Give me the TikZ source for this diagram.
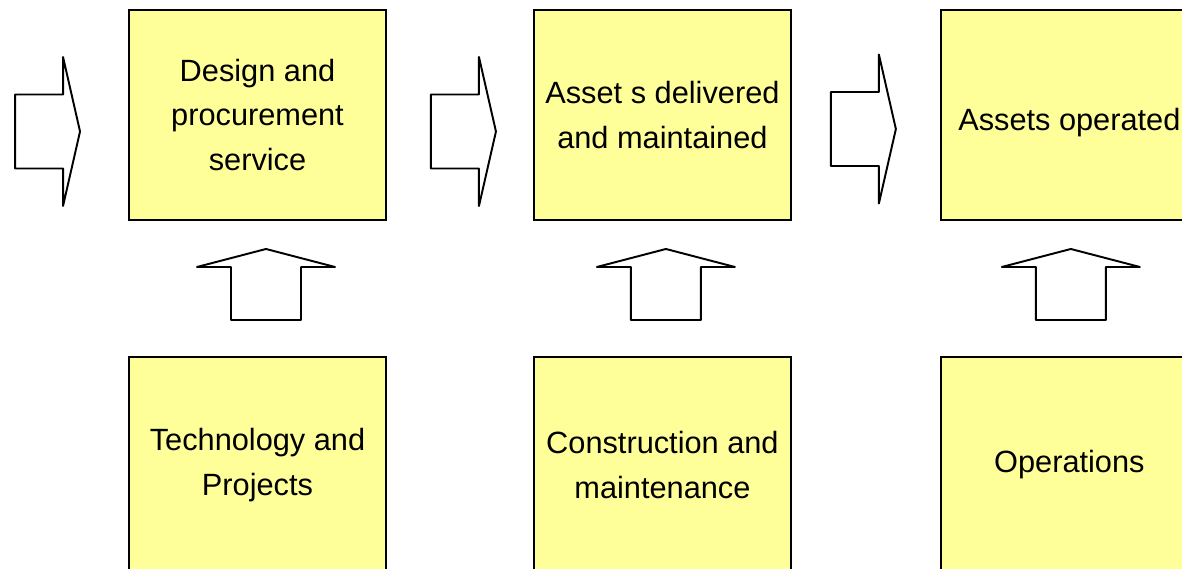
\documentclass[tikz,border=0pt]{standalone}
\usepackage{fontspec}
\setmainfont{Liberation Sans}
\usepackage{xcolor}
\usetikzlibrary{positioning}
\definecolor{notefill}{HTML}{FFFF99}

\begin{document}
\begin{tikzpicture}[
      x=0.02cm, y=0.02cm,
      box/.style={draw, line width=1.1pt, outer sep=0pt, align=center, minimum width=5.14cm, minimum height=4.2cm, fill=notefill, font=\fontsize{17.5pt}{25.6pt}\selectfont},
      unit/.style={box, minimum height=4.32cm},
      blockarrow/.style={draw, line width=1.1pt, line join=round, fill=white}
    ]
    \useasboundingbox (0,0) rectangle (1182,-568);
    \node[box] at (257.5,-115) (design) {Design and \\ procurement \\ service};
    \node[box, right=2.96cm of design] (delivered) {Asset s delivered \\ and maintained};
    \node[box, right=3.0cm of delivered, text height=0.76cm] (operated) {Assets operated};
    \node[unit, below=2.74cm of design] (tech) {Technology and \\ Projects};
    \node[unit, below=2.74cm of delivered] (construction) {Construction and \\ maintenance};
    \node[unit, below=2.74cm of operated] (operations) {Operations};
    % tips of the block arrows
    \coordinate[left=0.98cm of design, yshift=-0.33cm] (in1);
    \coordinate[left=0.76cm of delivered, yshift=-0.33cm] (in2);
    \coordinate[left=0.9cm of operated, yshift=-0.28cm] (in3);
    \coordinate[below=0.58cm of design, xshift=0.17cm] (up1);
    \coordinate[below=0.58cm of delivered, xshift=0.07cm] (up2);
    \coordinate[below=0.58cm of operated, xshift=0.03cm] (up3);
    \foreach \t in {in1, in2, in3}
      \draw[blockarrow] (\t) -- ++(-17,74.5) -- ++(0,-37.5) -- ++(-48,0) -- ++(0,-74) -- ++(48,0) -- ++(0,-37.5) -- cycle;
    \foreach \t in {up1, up2, up3}
      \draw[blockarrow] (\t) -- ++(-69,-18) -- ++(34,0) -- ++(0,-53) -- ++(70,0) -- ++(0,53) -- ++(34,0) -- cycle;
  \end{tikzpicture}
\end{document}
